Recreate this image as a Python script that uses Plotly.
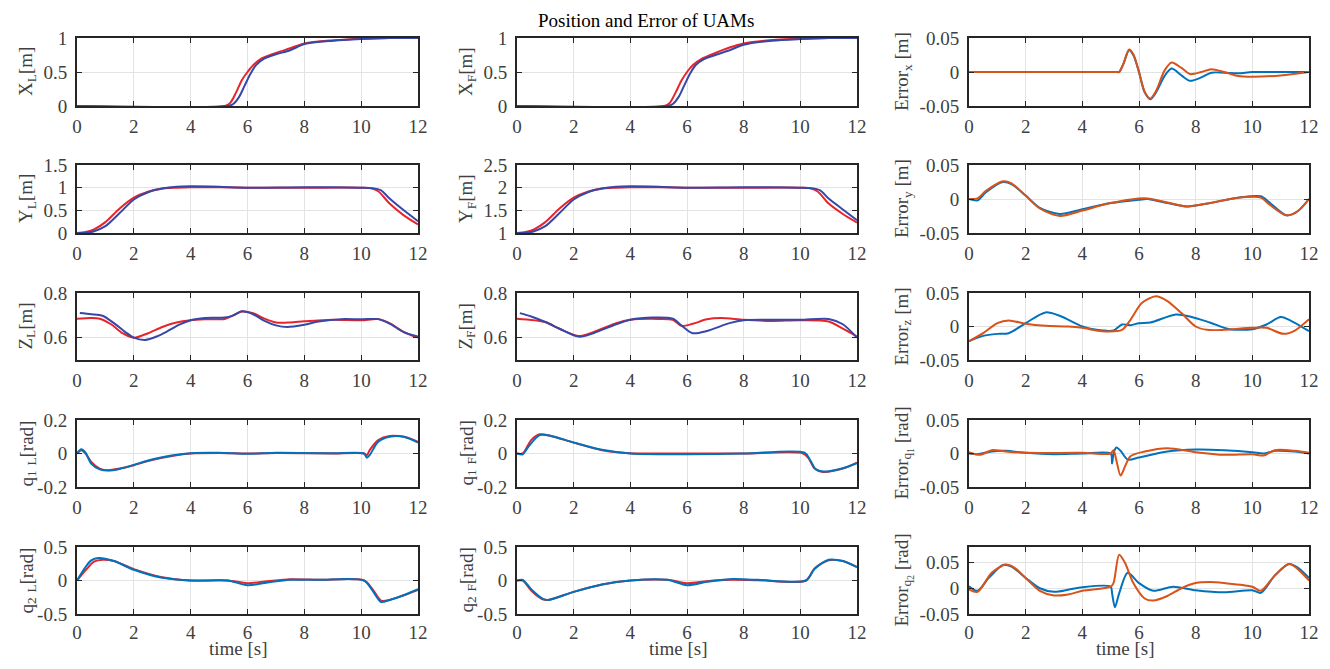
import plotly.graph_objects as go

# ---------------- data (time knots in s, values) ----------------
XL_r_t = [0, 5.2, 5.4, 5.6, 5.8, 6.0, 6.2, 6.5, 7.0, 7.5, 8.0, 9.0, 10.0, 11.0, 12.0]
XL_r   = [0, 0, 0.05, 0.2, 0.38, 0.5, 0.6, 0.7, 0.78, 0.85, 0.92, 0.965, 0.99, 1.0, 1.0]
XL_b_t = [0, 5.3, 5.5, 5.7, 5.9, 6.1, 6.3, 6.6, 7.0, 7.5, 8.0, 9.0, 10.0, 11.0, 12.0]
XL_b   = [0, 0, 0.03, 0.13, 0.3, 0.47, 0.6, 0.7, 0.76, 0.82, 0.91, 0.96, 0.985, 1.0, 1.0]

XF_r_t = [0, 5.2, 5.4, 5.6, 5.8, 6.0, 6.2, 6.5, 7.0, 7.5, 8.0, 9.0, 10.0, 11.0, 12.0]
XF_r   = [0, 0, 0.05, 0.2, 0.37, 0.5, 0.6, 0.69, 0.78, 0.86, 0.92, 0.97, 0.99, 1.0, 1.0]
XF_b_t = [0, 5.3, 5.5, 5.7, 5.9, 6.1, 6.3, 6.6, 7.0, 7.5, 8.0, 9.0, 10.0, 11.0, 12.0]
XF_b   = [0, 0, 0.03, 0.13, 0.3, 0.47, 0.6, 0.69, 0.75, 0.82, 0.9, 0.96, 0.985, 1.0, 1.0]

YL_r_t = [0, 0.3, 0.6, 1.0, 1.5, 2.0, 2.5, 3.0, 3.5, 4.0, 5.0, 6.0, 8.0, 10.0, 10.3, 10.6, 11.0, 11.5, 12.0]
YL_r   = [0, 0.02, 0.08, 0.24, 0.54, 0.78, 0.91, 0.98, 1.0, 1.01, 1.01, 1.0, 1.0, 1.0, 0.99, 0.92, 0.65, 0.39, 0.19]
YL_b_t = [0, 0.3, 0.6, 1.0, 1.5, 2.0, 2.5, 3.0, 3.5, 4.0, 5.0, 6.0, 8.0, 10.0, 10.4, 10.7, 11.0, 11.5, 12.0]
YL_b   = [0, 0.0, 0.04, 0.15, 0.44, 0.74, 0.9, 0.98, 1.02, 1.03, 1.02, 1.0, 1.01, 1.0, 0.99, 0.94, 0.76, 0.5, 0.26]

YF_r_t = [0, 0.3, 0.6, 1.0, 1.5, 2.0, 2.5, 3.0, 3.5, 4.0, 5.0, 6.0, 8.0, 10.0, 10.3, 10.6, 11.0, 11.5, 12.0]
YF_r   = [1.0, 1.02, 1.08, 1.24, 1.54, 1.78, 1.91, 1.98, 2.0, 2.01, 2.01, 2.0, 2.0, 2.0, 1.99, 1.92, 1.65, 1.42, 1.23]
YF_b_t = [0, 0.3, 0.6, 1.0, 1.5, 2.0, 2.5, 3.0, 3.5, 4.0, 5.0, 6.0, 8.0, 10.0, 10.4, 10.7, 11.0, 11.5, 12.0]
YF_b   = [1.0, 1.0, 1.04, 1.15, 1.44, 1.74, 1.9, 1.98, 2.02, 2.03, 2.02, 2.0, 2.01, 2.0, 1.99, 1.94, 1.76, 1.52, 1.28]

ZL_r_t = [0, 0.5, 0.8, 1.2, 1.6, 2.0, 2.5, 3.0, 3.5, 4.0, 4.5, 5.2, 5.5, 5.8, 6.2, 6.6, 7.0, 7.5, 8.0, 9.0, 10.0, 10.6, 11.0, 11.5, 12.0]
ZL_r   = [0.685, 0.688, 0.685, 0.66, 0.62, 0.6, 0.62, 0.648, 0.668, 0.678, 0.682, 0.684, 0.7, 0.717, 0.71, 0.685, 0.668, 0.668, 0.673, 0.68, 0.678, 0.683, 0.665, 0.625, 0.6]
ZL_b_t = [0.1, 0.5, 0.9, 1.3, 1.7, 2.0, 2.4, 2.8, 3.2, 3.6, 4.0, 4.5, 5.2, 5.5, 5.8, 6.2, 6.6, 7.0, 7.4, 8.0, 8.5, 9.3, 10.0, 10.6, 11.0, 11.5, 12.0]
ZL_b   = [0.71, 0.705, 0.698, 0.665, 0.625, 0.6, 0.59, 0.605, 0.63, 0.658, 0.678, 0.688, 0.69, 0.7, 0.718, 0.705, 0.675, 0.655, 0.648, 0.658, 0.672, 0.683, 0.682, 0.683, 0.663, 0.625, 0.605]

ZF_r_t = [0, 1.0, 1.5, 2.2, 3.0, 3.5, 4.0, 5.0, 5.5, 5.8, 6.2, 6.7, 7.2, 8.0, 9.0, 10.0, 11.0, 11.5, 12.0]
ZF_r   = [0.685, 0.67, 0.64, 0.607, 0.64, 0.665, 0.68, 0.684, 0.68, 0.653, 0.662, 0.682, 0.688, 0.68, 0.675, 0.678, 0.672, 0.64, 0.605]
ZF_b_t = [0.1, 0.5, 1.0, 1.5, 2.2, 2.7, 3.5, 4.0, 4.8, 5.5, 5.8, 6.2, 6.7, 7.5, 8.0, 9.0, 10.0, 11.0, 11.5, 12.0]
ZF_b   = [0.71, 0.695, 0.67, 0.64, 0.604, 0.62, 0.66, 0.68, 0.69, 0.685, 0.655, 0.62, 0.63, 0.665, 0.678, 0.68, 0.68, 0.684, 0.66, 0.6]

Q1L_r_t = [0, 0.15, 0.3, 0.5, 0.8, 1.1, 1.5, 2.0, 2.5, 3.0, 3.5, 4.0, 5.0, 6.0, 7.0, 8.0, 9.0, 10.1, 10.2, 10.3, 10.6, 11.0, 11.5, 12.0]
Q1L_r   = [0, 0.02, 0.0, -0.05, -0.09, -0.1, -0.09, -0.07, -0.045, -0.025, -0.01, 0.0, 0.003, 0.0, 0.003, 0.002, 0.0, 0.0, -0.01, 0.02, 0.08, 0.105, 0.1, 0.07]
Q1L_b_t = [0, 0.15, 0.3, 0.5, 0.8, 1.1, 1.5, 2.0, 2.5, 3.0, 3.5, 4.0, 5.0, 6.0, 7.0, 8.0, 9.0, 10.1, 10.2, 10.3, 10.6, 11.0, 11.5, 12.0]
Q1L_b   = [0, 0.025, 0.005, -0.06, -0.095, -0.102, -0.092, -0.068, -0.042, -0.022, -0.008, 0.002, 0.004, -0.002, 0.004, 0.003, 0.001, 0.0, -0.025, -0.01, 0.07, 0.1, 0.1, 0.065]

Q2L_r_t = [0, 0.3, 0.6, 0.9, 1.3, 2.0, 3.0, 4.0, 5.3, 6.0, 6.7, 7.5, 8.5, 10.1, 10.4, 10.7, 11.0, 11.5, 12.0]
Q2L_r   = [0, 0.15, 0.28, 0.31, 0.29, 0.17, 0.05, 0.0, 0.0, -0.04, -0.01, 0.02, 0.01, 0.0, -0.13, -0.3, -0.29, -0.22, -0.14]
Q2L_b_t = [0, 0.3, 0.5, 0.75, 1.3, 2.0, 3.0, 4.0, 5.3, 6.0, 6.7, 7.5, 8.5, 10.1, 10.4, 10.7, 11.0, 11.5, 12.0]
Q2L_b   = [0, 0.2, 0.3, 0.335, 0.29, 0.16, 0.04, 0.0, 0.0, -0.07, -0.03, 0.01, 0.01, 0.0, -0.15, -0.32, -0.29, -0.22, -0.13]

Q1F_r_t = [0, 0.2, 0.5, 0.8, 1.2, 2.0, 3.0, 4.0, 6.0, 8.0, 10.1, 10.3, 10.5, 10.8, 11.5, 12.0]
Q1F_r   = [0, 0.0, 0.08, 0.115, 0.105, 0.065, 0.02, 0.002, 0.0, 0.0, 0.0, -0.03, -0.09, -0.11, -0.09, -0.055]
Q1F_b_t = [0, 0.2, 0.4, 0.8, 1.2, 2.0, 3.0, 4.0, 6.0, 8.0, 10.15, 10.35, 10.55, 10.8, 11.5, 12.0]
Q1F_b   = [0, -0.005, 0.04, 0.11, 0.105, 0.066, 0.022, 0.0, -0.004, 0.0, 0.005, -0.04, -0.095, -0.108, -0.088, -0.058]

Q2F_r_t = [0, 0.2, 0.5, 0.9, 1.1, 2.0, 3.0, 4.0, 5.3, 6.0, 6.7, 7.5, 8.5, 10.2, 10.5, 11.0, 11.5, 12.0]
Q2F_r   = [0, 0.0, -0.15, -0.28, -0.29, -0.17, -0.06, 0.0, 0.01, -0.04, -0.01, 0.01, 0.005, 0.0, 0.18, 0.3, 0.29, 0.2]
Q2F_b_t = [0, 0.2, 0.5, 0.9, 1.1, 2.0, 3.0, 4.0, 5.3, 6.0, 6.7, 7.5, 8.5, 10.2, 10.5, 11.0, 11.5, 12.0]
Q2F_b   = [0, 0.01, -0.13, -0.27, -0.29, -0.17, -0.06, 0.0, 0.01, -0.07, -0.02, 0.02, 0.01, 0.0, 0.17, 0.31, 0.29, 0.2]

EX_b_t = [0, 5.2, 5.3, 5.45, 5.65, 5.8, 6.0, 6.2, 6.4, 6.6, 6.9, 7.15, 7.5, 7.8, 8.2, 8.55, 9.0, 9.5, 10.0, 11.0, 12.0]
EX_b   = [0, 0, 0.0, 0.012, 0.032, 0.025, 0.0, -0.03, -0.04, -0.03, -0.006, 0.005, -0.005, -0.013, -0.008, -0.001, -0.001, -0.002, 0.0, 0.0, 0.0]
EX_o_t = [0, 5.2, 5.3, 5.45, 5.65, 5.8, 6.0, 6.2, 6.4, 6.6, 6.9, 7.15, 7.5, 7.8, 8.2, 8.55, 9.0, 9.5, 10.0, 11.0, 12.0]
EX_o   = [0, 0, 0.0, 0.012, 0.033, 0.026, 0.0, -0.029, -0.039, -0.028, 0.002, 0.014, 0.006, -0.003, 0.0, 0.004, 0.0, -0.006, -0.007, -0.005, 0.0]

EY_b_t = [0, 0.3, 0.6, 1.2, 1.5, 2.0, 2.5, 3.2, 4.0, 5.0, 6.0, 6.3, 7.0, 7.7, 8.5, 9.5, 10.3, 10.6, 11.2, 11.6, 12.0]
EY_b   = [0, -0.002, 0.01, 0.025, 0.022, 0.005, -0.013, -0.022, -0.015, -0.006, -0.001, 0.0, -0.006, -0.011, -0.006, 0.002, 0.004, -0.005, -0.024, -0.018, 0.0]
EY_o_t = [0, 0.3, 0.6, 1.2, 1.5, 2.0, 2.5, 3.2, 4.0, 5.0, 6.2, 7.0, 7.7, 8.5, 9.5, 10.3, 10.6, 11.2, 11.6, 12.0]
EY_o   = [0, 0.001, 0.012, 0.026, 0.023, 0.005, -0.014, -0.025, -0.017, -0.006, 0.001, -0.005, -0.011, -0.006, 0.002, 0.002, -0.008, -0.024, -0.018, 0.0]

EZ_b_t = [0, 0.5, 1.0, 1.4, 2.0, 2.7, 3.2, 4.0, 4.5, 5.1, 5.4, 5.7, 6.0, 6.4, 7.3, 7.8, 8.5, 9.2, 10.0, 10.5, 11.0, 11.3, 12.0]
EZ_b   = [-0.022, -0.014, -0.011, -0.01, 0.005, 0.021, 0.016, 0.0, -0.005, -0.006, 0.003, 0.002, 0.005, 0.006, 0.018, 0.015, 0.006, -0.004, -0.004, 0.003, 0.014, 0.01, -0.007]
EZ_o_t = [0, 0.5, 1.0, 1.4, 2.0, 2.7, 3.5, 4.0, 4.7, 5.4, 5.7, 6.1, 6.6, 7.0, 7.5, 8.0, 8.4, 9.0, 10.0, 10.5, 11.1, 11.5, 12.0]
EZ_o   = [-0.022, -0.01, 0.005, 0.009, 0.004, 0.001, 0.0, -0.002, -0.007, -0.005, 0.01, 0.035, 0.045, 0.038, 0.02, 0.0, -0.005, -0.005, -0.002, -0.002, -0.011, -0.006, 0.011]

EQ1_b_t = [0, 0.3, 0.8, 1.3, 2.0, 3.0, 4.0, 5.0, 5.05, 5.1, 5.2, 5.35, 5.6, 6.0, 7.0, 8.0, 9.0, 10.0, 10.4, 10.8, 11.5, 12.0]
EQ1_b   = [0, -0.001, 0.003, 0.004, 0.001, -0.001, 0.0, 0.0, -0.015, 0.0, 0.009, 0.004, -0.009, -0.006, 0.003, 0.006, 0.005, 0.002, 0.0, 0.004, 0.003, 0.0]
EQ1_o_t = [0, 0.4, 0.8, 1.3, 2.0, 4.0, 5.0, 5.1, 5.2, 5.35, 5.5, 5.7, 6.2, 7.0, 8.0, 9.0, 10.0, 10.4, 10.8, 11.5, 12.0]
EQ1_o   = [0.002, -0.002, 0.005, 0.003, 0.001, 0.001, 0.0, 0.005, -0.01, -0.033, -0.02, -0.004, 0.003, 0.008, 0.002, -0.002, -0.001, -0.003, 0.005, 0.004, 0.001]

EQ2_b_t = [0, 0.3, 0.7, 1.2, 1.5, 2.0, 2.5, 3.0, 3.5, 4.0, 5.0, 5.05, 5.15, 5.3, 5.6, 6.0, 6.5, 7.2, 8.0, 9.0, 10.0, 10.3, 10.8, 11.3, 11.6, 12.0]
EQ2_b   = [0.004, -0.005, 0.02, 0.045, 0.042, 0.02, 0.0, -0.007, -0.003, 0.002, 0.003, -0.01, -0.037, -0.01, 0.03, 0.01, -0.005, 0.003, -0.004, -0.008, -0.004, -0.009, 0.025, 0.047, 0.04, 0.02]
EQ2_o_t = [0, 0.3, 0.8, 1.3, 1.6, 2.0, 2.5, 3.0, 3.5, 4.0, 5.0, 5.1, 5.3, 5.5, 5.8, 6.2, 6.5, 7.0, 7.5, 8.0, 8.5, 9.0, 10.0, 10.3, 10.8, 11.3, 12.0]
EQ2_o   = [-0.002, -0.007, 0.03, 0.046, 0.04, 0.02, -0.005, -0.014, -0.012, -0.005, 0.003, 0.01, 0.065, 0.05, 0.01, -0.02, -0.024, -0.015, 0.0, 0.01, 0.012, 0.01, 0.003, -0.005, 0.025, 0.047, 0.015]

X_TICKS = [0, 2, 4, 6, 8, 10, 12]

# ---------------- styling ----------------
OFF = 8                      # default page (body) margin of the html file
W, H = 1330 - 2 * OFF, 669 - 2 * OFF
FONT = "Liberation Serif, Times New Roman, serif"
AX = "#262626"
TXT = "#404040"
RED = "#E8232A"
BLUE_P = "#3548A8"
BLUE = "#0072BD"
ORANGE = "#D95319"

# page-pixel positions of the plot boxes in the reference
col_px = [(77, 418), (517, 857), (969, 1309)]
row_px = [(38, 106), (165, 233), (293, 360), (420, 487), (547, 614)]

def px(v):   # page x -> paper fraction
    return (v - OFF) / W

def py(v):   # page y -> paper fraction
    return 1 - (v - OFF) / H

panels = [
    (0, 0, [(XL_r_t, XL_r, RED), (XL_b_t, XL_b, BLUE_P)], [0, 1], [0, 0.5, 1], "X<sub>L</sub>[m]"),
    (0, 1, [(YL_r_t, YL_r, RED), (YL_b_t, YL_b, BLUE_P)], [0, 1.5], [0, 0.5, 1, 1.5], "Y<sub>L</sub>[m]"),
    (0, 2, [(ZL_r_t, ZL_r, RED), (ZL_b_t, ZL_b, BLUE_P)], [0.5, 0.8], [0.6, 0.8], "Z<sub>L</sub>[m]"),
    (0, 3, [(Q1L_r_t, Q1L_r, RED), (Q1L_b_t, Q1L_b, BLUE)], [-0.2, 0.2], [-0.2, 0, 0.2], "q<sub>1</sub> <sub>L</sub>[rad]"),
    (0, 4, [(Q2L_r_t, Q2L_r, RED), (Q2L_b_t, Q2L_b, BLUE)], [-0.5, 0.5], [-0.5, 0, 0.5], "q<sub>2</sub> <sub>L</sub>[rad]"),
    (1, 0, [(XF_r_t, XF_r, RED), (XF_b_t, XF_b, BLUE_P)], [0, 1], [0, 0.5, 1], "X<sub>F</sub>[m]"),
    (1, 1, [(YF_r_t, YF_r, RED), (YF_b_t, YF_b, BLUE_P)], [1, 2.5], [1, 1.5, 2, 2.5], "Y<sub>F</sub>[m]"),
    (1, 2, [(ZF_r_t, ZF_r, RED), (ZF_b_t, ZF_b, BLUE_P)], [0.5, 0.8], [0.6, 0.8], "Z<sub>F</sub>[m]"),
    (1, 3, [(Q1F_r_t, Q1F_r, RED), (Q1F_b_t, Q1F_b, BLUE)], [-0.2, 0.2], [-0.2, 0, 0.2], "q<sub>1</sub> <sub>F</sub>[rad]"),
    (1, 4, [(Q2F_r_t, Q2F_r, RED), (Q2F_b_t, Q2F_b, BLUE)], [-0.5, 0.5], [-0.5, 0, 0.5], "q<sub>2</sub> <sub>F</sub>[rad]"),
    (2, 0, [(EX_b_t, EX_b, BLUE), (EX_o_t, EX_o, ORANGE)], [-0.05, 0.05], [-0.05, 0, 0.05], "Error<sub>x</sub> [m]"),
    (2, 1, [(EY_b_t, EY_b, BLUE), (EY_o_t, EY_o, ORANGE)], [-0.05, 0.05], [-0.05, 0, 0.05], "Error<sub>y</sub> [m]"),
    (2, 2, [(EZ_b_t, EZ_b, BLUE), (EZ_o_t, EZ_o, ORANGE)], [-0.05, 0.05], [-0.05, 0, 0.05], "Error<sub>z</sub> [m]"),
    (2, 3, [(EQ1_b_t, EQ1_b, BLUE), (EQ1_o_t, EQ1_o, ORANGE)], [-0.05, 0.05], [-0.05, 0, 0.05], "Error<sub>q<sub>1</sub></sub> [rad]"),
    (2, 4, [(EQ2_b_t, EQ2_b, BLUE), (EQ2_o_t, EQ2_o, ORANGE)], [-0.05, 0.08], [-0.05, 0, 0.05], "Error<sub>q<sub>2</sub></sub> [rad]"),
]

fig = go.Figure()
layout = {}
annotations = []
label_x = [27, 467, 903]

for i, (c, r, series, yr, yt, lab) in enumerate(panels):
    n = i + 1
    xa = "x" if n == 1 else f"x{n}"
    ya = "y" if n == 1 else f"y{n}"
    for (tt, vv, colr) in series:
        fig.add_trace(go.Scatter(x=tt, y=vv, mode="lines", xaxis=xa, yaxis=ya,
                                 line=dict(color=colr, width=2, shape="spline", smoothing=0.8),
                                 showlegend=False, hoverinfo="skip"))
    x0, x1 = col_px[c]
    y0, y1 = row_px[r]
    common = dict(showline=True, linecolor=AX, linewidth=2, mirror="ticks",
                  ticks="inside", ticklen=5, tickwidth=1.3, tickcolor=AX,
                  showgrid=True, gridcolor="#E3E3E3", gridwidth=1.3, zeroline=False,
                  automargin=False,
                  tickfont=dict(family=FONT, size=19, color=TXT), fixedrange=True)
    layout["xaxis" if n == 1 else f"xaxis{n}"] = dict(
        domain=[px(x0), px(x1)], anchor=ya, range=[0, 12],
        ticklabelstandoff=(0 if r == 4 else 2),
        tickmode="array", tickvals=X_TICKS, ticktext=[str(v) for v in X_TICKS], **common)
    layout["yaxis" if n == 1 else f"yaxis{n}"] = dict(
        domain=[py(y1), py(y0)], anchor=xa, range=yr, ticklabelstandoff=4,
        tickmode="array", tickvals=yt, ticktext=["%g" % v for v in yt], **common)
    annotations.append(dict(text=lab, xref="paper", yref="paper",
                            x=px(label_x[c]), y=py((y0 + y1) / 2), textangle=-90,
                            showarrow=False, xanchor="center", yanchor="middle",
                            font=dict(family=FONT, size=19, color=TXT)))

annotations.append(dict(text="Position and Error of UAMs", xref="paper", yref="paper",
                        x=px(646), y=1.0, showarrow=False, xanchor="center", yanchor="top",
                        font=dict(family=FONT, size=19, color="#000000")))
for cx in [238, 678, 1125]:
    annotations.append(dict(text="time [s]", xref="paper", yref="paper",
                            x=px(cx), y=0.0, showarrow=False, xanchor="center", yanchor="bottom",
                            font=dict(family=FONT, size=19, color=TXT)))

fig.update_layout(width=W, height=H, margin=dict(l=0, r=0, t=0, b=0, pad=0, autoexpand=False),
                  paper_bgcolor="white", plot_bgcolor="white",
                  font=dict(family=FONT, size=19, color=TXT),
                  annotations=annotations, **layout)
fig.write_html("out.html", config={"displayModeBar": False})
